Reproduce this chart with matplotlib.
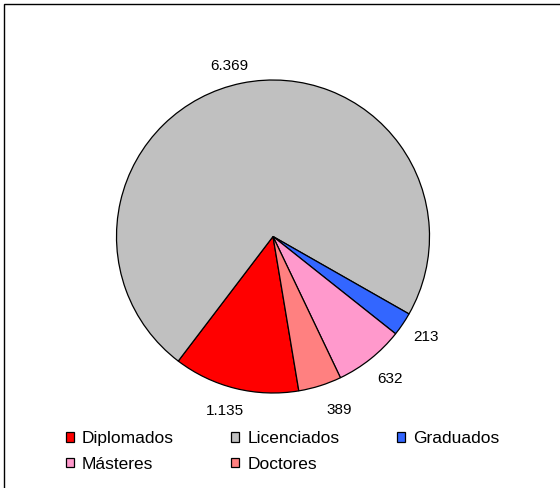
import numpy as np
import matplotlib
matplotlib.use("Agg")
import matplotlib.pyplot as plt
from matplotlib.patches import Rectangle

categories = ["Diplomados", "Licenciados", "Graduados", "Másteres", "Doctores"]
values = [1135, 6369, 213, 632, 389]
colors = ["#FF0000", "#C0C0C0", "#3366FF", "#FF99CC", "#FF8080"]
# small label nudges (points), like Excel's best-fit label placement
label_nudge = [(-3.6, 1.4), (-5, -5), (2, 1), (3, -0.7), (8, 0)]

plt.rcParams['font.family'] = ['Liberation Sans', 'DejaVu Sans']

W, H = 560, 488
fig = plt.figure(figsize=(W / 100, H / 100), dpi=100)

# outer frame
fig.patches.append(Rectangle((4 / W, -0.05), 1.2, (H - 4) / H + 0.05, transform=fig.transFigure,
                             fill=False, edgecolor="#000000", linewidth=1.0))

cx, cy, R = 273, 236.5, 156.5
ax = fig.add_axes([(cx - R) / W, (H - cy - R) / H, 2 * R / W, 2 * R / H])
wedges, _ = ax.pie(values, colors=colors, startangle=-80.5, counterclock=False,
                   wedgeprops=dict(edgecolor="black", linewidth=0.9))
ax.set_xlim(-1, 1)
ax.set_ylim(-1, 1)
ax.set_aspect('equal')
ax.axis('off')

for w, v, nd in zip(wedges, values, label_nudge):
    ang = np.deg2rad((w.theta1 + w.theta2) / 2)
    d = 1.16
    ax.annotate(f"{v:,}".replace(",", "."), xy=(d * np.cos(ang), d * np.sin(ang)),
                xytext=nd, textcoords="offset points",
                ha="center", va="center", fontsize=11, color="black",
                annotation_clip=False)

order = [0, 3, 1, 4, 2]
leg = fig.legend([wedges[i] for i in order], [categories[i] for i in order],
                 ncol=3, loc="upper left", bbox_to_anchor=(66 / W, (H - 431) / H),
                 frameon=False, fontsize=12.5, handlelength=0.46, handleheight=0.46,
                 handletextpad=0.46, columnspacing=3.3, labelspacing=0.62,
                 borderpad=0, borderaxespad=0)

fig.savefig("out.png", dpi=100)
